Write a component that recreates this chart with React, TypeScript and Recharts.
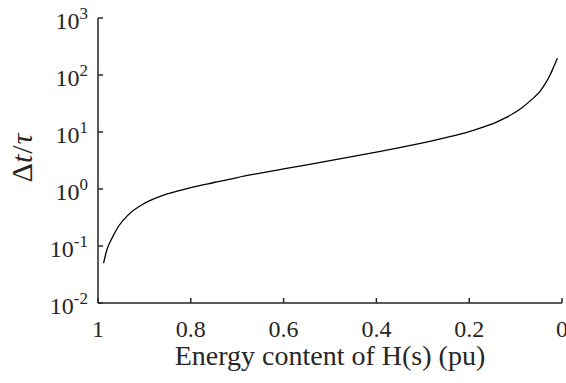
import React from 'react';
import { LineChart, Line, XAxis, YAxis, Label } from 'recharts';

const energy = [0.988, 0.981, 0.970, 0.956, 0.935, 0.9, 0.863, 0.827, 0.8, 0.75, 0.7, 0.65, 0.6, 0.55, 0.5, 0.45, 0.4, 0.35, 0.3, 0.25, 0.2, 0.17, 0.14, 0.12, 0.105, 0.09, 0.069, 0.06, 0.047, 0.035, 0.026, 0.018, 0.01];
const ratio = [0.050, 0.085, 0.136, 0.22, 0.35, 0.56, 0.76, 0.93, 1.06, 1.30, 1.59, 1.90, 2.25, 2.66, 3.14, 3.72, 4.43, 5.32, 6.47, 8.0, 10.2, 12.2, 15.1, 18.0, 21.1, 25.4, 34.8, 40.5, 52.3, 72.8, 99, 138, 196];

const xTicks = [0, 0.2, 0.4, 0.6, 0.8, 1];
const xTickLabels = ['0', '0.2', '0.4', '0.6', '0.8', '1'];
const yTicks = [0.01, 0.1, 1, 10, 100, 1000];
const yExponents = ['-2', '-1', '0', '1', '2', '3'];

const data = energy.map((e, i) => ({ e, r: ratio[i] }));

const FONT = 'Liberation Serif';
const AXIS = '#262626';

const XTick = (props: any) => {
  const { x, y, payload } = props;
  const idx = xTicks.indexOf(payload.value);
  return (
    <text x={x} y={y} textAnchor="middle" fontFamily={FONT} fontSize={24} style={{ fontFamily: FONT }} fill={AXIS}>
      {idx >= 0 ? xTickLabels[idx] : String(payload.value)}
    </text>
  );
};

const YTick = (props: any) => {
  const { x, y, payload } = props;
  const idx = yTicks.findIndex((t) => Math.abs(t - payload.value) < 1e-9);
  return (
    <text x={x} y={y + 11} textAnchor="end" fontFamily={FONT} fontSize={24} style={{ fontFamily: FONT }} fill={AXIS}>
      <tspan>10</tspan>
      <tspan fontSize={17} dy={-10}>{idx >= 0 ? yExponents[idx] : ''}</tspan>
    </text>
  );
};

const Empty = () => <g />;

const XTitle = () => (
  <text x={330} y={365} textAnchor="middle" fontFamily={FONT} fontSize={28} style={{ fontFamily: FONT }} fill={AXIS}>
    Energy content of H(s) (pu)
  </text>
);

const YTitle = () => (
  <text x={32} y={158} transform="rotate(-90, 32, 158)" textAnchor="middle" fontFamily={FONT} fontSize={30} style={{ fontFamily: FONT }} fill={AXIS}>
    <tspan>Δ</tspan>
    <tspan fontStyle="italic">t</tspan>
    <tspan dx={1}>/</tspan>
    <tspan dx={1} fontStyle="italic">τ</tspan>
  </text>
);

export default function App() {
  return (
    <div style={{ position: 'absolute', left: 0, top: 0, width: 566, height: 383, background: '#fff', fontFamily: FONT }}>
      <LineChart width={566} height={383} data={data} margin={{ top: 18, right: 4, left: 0, bottom: 0 }} style={{ fontFamily: FONT }}>
        <XAxis
          dataKey="e"
          type="number"
          domain={[0, 1]}
          reversed
          ticks={xTicks}
          interval={0}
          height={80}
          tickSize={-5}
          tickMargin={39}
          tick={XTick}
          axisLine={{ stroke: AXIS, strokeWidth: 1.5 }}
          tickLine={{ stroke: AXIS, strokeWidth: 1.5 }}
          allowDataOverflow
        >
          <Label content={XTitle} />
        </XAxis>
        <XAxis
          xAxisId="top"
          orientation="top"
          type="number"
          domain={[0, 1]}
          reversed
          ticks={xTicks}
          interval={0}
          height={0}
          tickSize={-5}
          tick={Empty}
          axisLine={{ stroke: AXIS, strokeWidth: 1 }}
          tickLine={{ stroke: AXIS, strokeWidth: 1.5 }}
          allowDataOverflow
        />
        <YAxis
          scale="log"
          type="number"
          domain={[0.01, 1000]}
          ticks={yTicks}
          interval={0}
          width={98}
          tickSize={-5}
          tickMargin={15}
          tick={YTick}
          axisLine={{ stroke: AXIS, strokeWidth: 1.5 }}
          tickLine={{ stroke: AXIS, strokeWidth: 1.5 }}
          allowDataOverflow
        >
          <Label content={YTitle} />
        </YAxis>
        <YAxis
          yAxisId="right"
          orientation="right"
          scale="log"
          type="number"
          domain={[0.01, 1000]}
          ticks={yTicks}
          interval={0}
          width={0}
          tickSize={-5}
          tick={Empty}
          axisLine={{ stroke: AXIS, strokeWidth: 1.5 }}
          tickLine={{ stroke: AXIS, strokeWidth: 1.5 }}
          allowDataOverflow
        />
        <Line
          type="monotone"
          dataKey="r"
          stroke="#000"
          strokeWidth={1.3}
          dot={false}
          isAnimationActive={false}
        />
      </LineChart>
    </div>
  );
}
